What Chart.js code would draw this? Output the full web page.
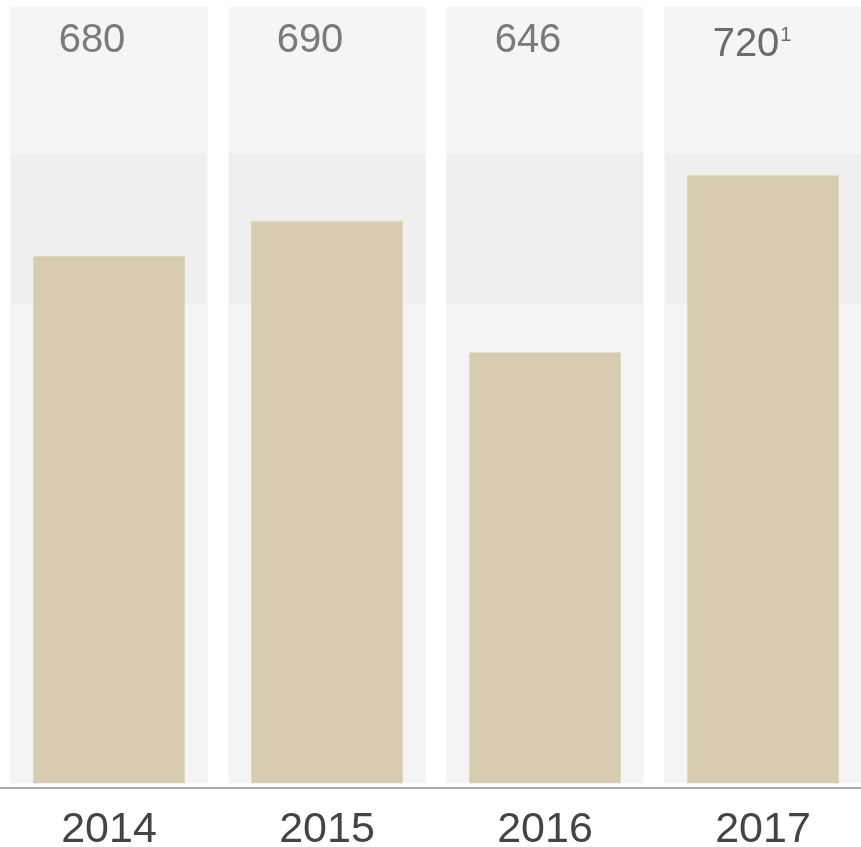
<!DOCTYPE html>
<html>
<head>
<meta charset="utf-8">
<script src="https://cdn.jsdelivr.net/npm/chart.js@4"></script>
<style>
  html, body { margin: 0; padding: 0; background: #fff; overflow: hidden; }
  #wrap { position: relative; width: 872px; height: 873px; }
</style>
</head>
<body>
<div id="wrap"><canvas id="chart"></canvas></div>
<script>
// Роки по осі X
const years = ["2014", "2015", "2016", "2017"];
// Підписи над колонками (як на картинці) + виноски
const valueLabels = ["680", "690", "646", "720"];
const footnotes = ["", "", "", "1"];
// Висота стовпчиків (шкала 0–100, 100 = верх сірої панелі)
const barLevels = [67.9, 72.4, 55.5, 78.3];
// Сірі панелі позаду стовпчиків
const panelLevels = [100, 100, 100, 100];

// Сіра панель зі смугою трохи темнішого тону
function panelFill(ctx) {
    const area = ctx.chart.chartArea;
    if (!area) return "#f4f4f4";
    const g = ctx.chart.ctx.createLinearGradient(0, area.top, 0, area.bottom);
    g.addColorStop(0, "#f5f5f5");
    g.addColorStop(0.187, "#f5f5f5");
    g.addColorStop(0.188, "#efefef");
    g.addColorStop(0.38, "#efefef");
    g.addColorStop(0.381, "#f4f4f4");
    g.addColorStop(1, "#f4f4f4");
    return g;
}

// Підписи значень зверху кожної панелі
const topLabels = {
    id: "topLabels",
    afterDatasetsDraw(chart) {
        const { ctx, scales: { x }, chartArea } = chart;
        ctx.save();
        ctx.textBaseline = "alphabetic";
        valueLabels.forEach((txt, i) => {
            const cx = x.getPixelForValue(i) - 17;
            const y = chartArea.top + 45 + (footnotes[i] ? 4 : 0);
            ctx.font = "40px 'Liberation Sans', Arial, sans-serif";
            const w = ctx.measureText(txt).width;
            ctx.fillStyle = footnotes[i] ? "#6c6c6c" : "#7a7a7a";
            ctx.textAlign = "left";
            const start = cx - w / 2;
            ctx.fillText(txt, start, y);
            if (footnotes[i]) {
                ctx.font = "20px 'Liberation Sans', Arial, sans-serif";
                ctx.fillText(footnotes[i], start + w + 1, y - 15);
            }
        });
        ctx.restore();
    }
};

const ctx = document.getElementById("chart").getContext("2d");
new Chart(ctx, {
    type: "bar",
    plugins: [topLabels],
    data: {
        labels: years,
        datasets: [
            {
                data: barLevels,
                backgroundColor: "#d7ccb0",
                barPercentage: 0.695,
                categoryPercentage: 1,
                order: 1
            },
            {
                data: panelLevels,
                backgroundColor: panelFill,
                barPercentage: 0.905,
                categoryPercentage: 1,
                order: 2
            }
        ]
    },
    options: {
        responsive: true,
        maintainAspectRatio: false,
        animation: false,
        layout: { padding: { top: 7, left: 0, right: 0, bottom: 0 } },
        datasets: { bar: { grouped: false } },
        plugins: {
            legend: { display: false },
            tooltip: { enabled: false }
        },
        scales: {
            x: {
                grid: { display: false, drawTicks: false },
                border: { display: true, color: "#a9a9a9", width: 2 },
                ticks: {
                    color: "#444",
                    padding: 21,
                    font: { family: "'Liberation Sans', Arial, sans-serif", size: 43, lineHeight: 1 }
                }
            },
            y: {
                display: false,
                min: -0.6,
                max: 100
            }
        }
    }
});
</script>
</body>
</html>
